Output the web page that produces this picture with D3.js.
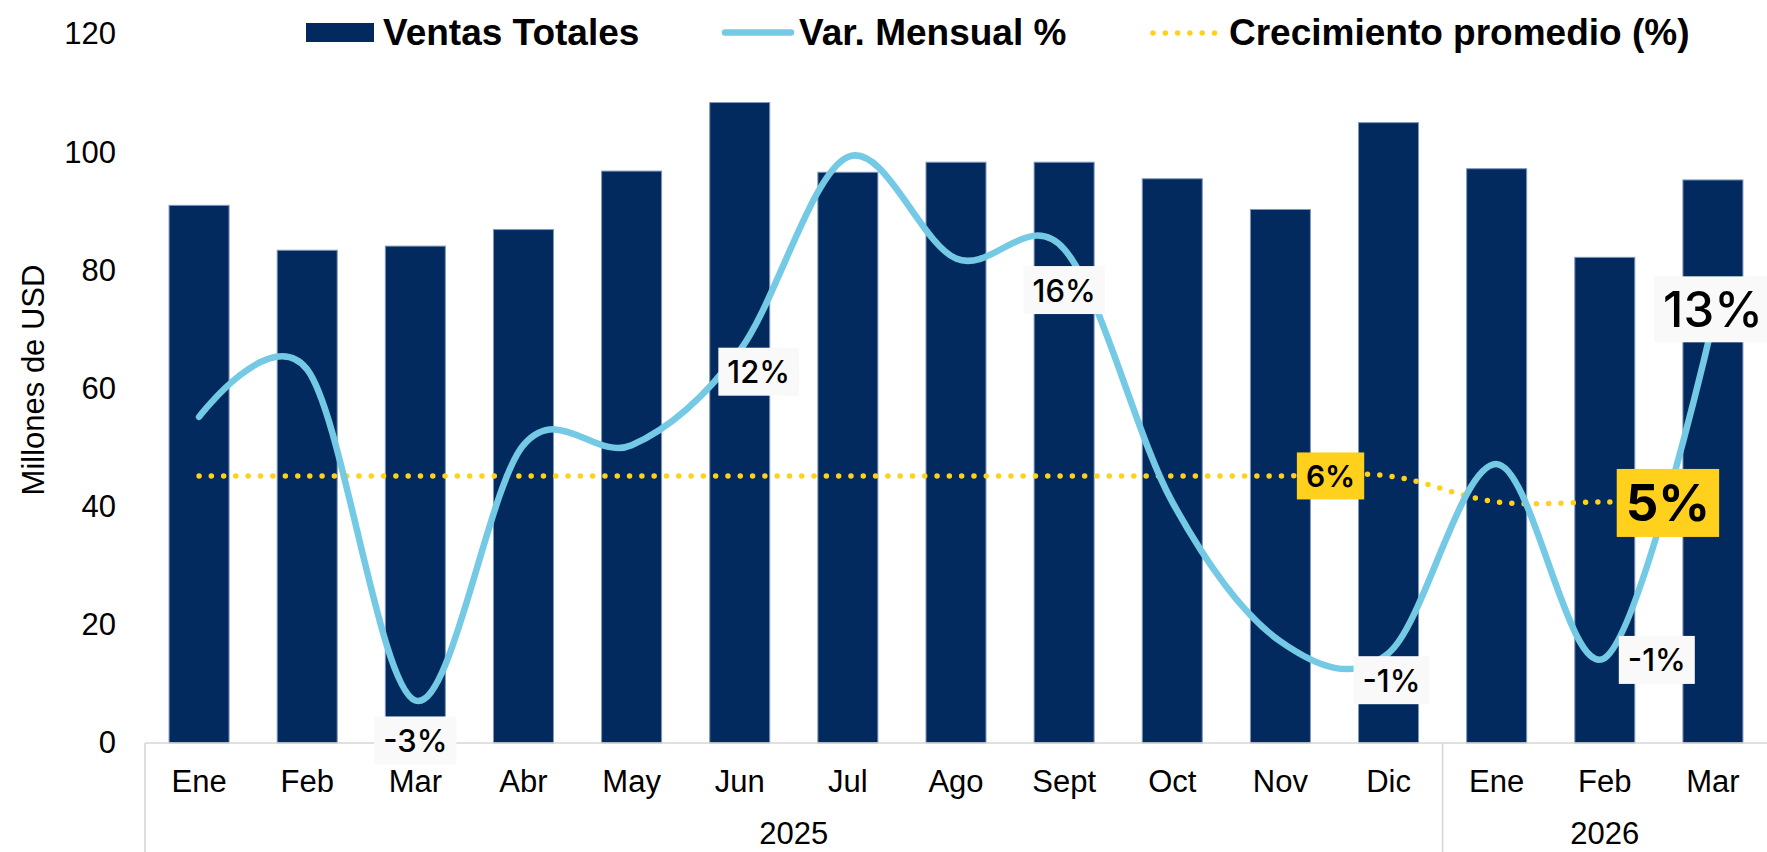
<!DOCTYPE html>
<html><head><meta charset="utf-8">
<script src="https://cdn.jsdelivr.net/npm/d3@7"></script>
<style>html,body{margin:0;padding:0;background:#fff;} svg{display:block;}</style>
</head><body><svg id="c" width="1767" height="852"></svg>
<script>
// ---------- DATA ----------
const months = ["Ene","Feb","Mar","Abr","May","Jun","Jul","Ago","Sept","Oct","Nov","Dic","Ene","Feb","Mar"];
const years = ["2025","2026"];
const yearSpan = [12,3];
const ventas = [91.0, 83.4, 84.1, 86.9, 96.8, 108.4, 96.6, 98.3, 98.3, 95.5, 90.3, 105.0, 97.2, 82.2, 95.3];
const varMensual = [8.8, 10.8, -3.2, 7.6, 7.6, 11.6, 19.8, 15.5, 15.9, 5.2, -0.7, -1.2, 6.8, -1.4, 12.8];
const crecimiento = [6.3, 6.3, 6.3, 6.3, 6.3, 6.3, 6.3, 6.3, 6.3, 6.3, 6.3, 6.3, 5.2, 5.2, 5.2];
const yTicks = [0, 20, 40, 60, 80, 100, 120];
const varLabelIdx = [2, 5, 8, 11, 13, 14];
const crecLabelIdx = [11, 14];
const legendNames = ["Ventas Totales", "Var. Mensual %", "Crecimiento promedio (%)"];

// ---------- LAYOUT ----------
const W = 1767, H = 852;
const plot = {left: 145, right: 1767, top: 34, bottom: 743};
const svg = d3.select("#c");
const sansFont = "'Liberation Sans', Arial, sans-serif";
const lblFont = "Inter, 'Noto Sans', sans-serif";
const C = {bar: "#022A5E", barEdge: "#7f97bb", line: "#74C9E5", dot: "#FFD11C", axis: "#d6d6d6"};

const x = d3.scaleBand().domain(d3.range(months.length)).range([plot.left, plot.right])
  .paddingInner(0.445).paddingOuter(0.2225);
const cx = i => x(i) + x.bandwidth() / 2;
const y = d3.scaleLinear().domain([0, 120]).range([plot.bottom, plot.top]);
const y2 = d3.scaleLinear().domain([-5, 25]).range([plot.bottom, plot.top]);

// Y axis (left)
const yAxis = svg.append("g").attr("transform", `translate(116,0)`)
  .call(d3.axisLeft(y).tickValues(yTicks).tickSize(0).tickPadding(0));
yAxis.select(".domain").remove();
yAxis.selectAll("text").attr("font-family", sansFont).attr("font-size", 31).attr("fill", "#000");

svg.append("text").attr("transform", `translate(44,380) rotate(-90)`)
  .attr("text-anchor", "middle").attr("font-family", sansFont).attr("font-size", 31).attr("fill", "#000")
  .text("Millones de USD");

// Bars
svg.append("g").selectAll("rect").data(ventas).join("rect")
  .attr("x", (d, i) => x(i)).attr("width", x.bandwidth())
  .attr("y", d => y(d)).attr("height", d => y(0) - y(d))
  .attr("fill", C.bar).attr("stroke", C.barEdge).attr("stroke-width", 1);

// Category axis
const xAxis = svg.append("g").attr("transform", `translate(0,${plot.bottom})`)
  .call(d3.axisBottom(x).tickFormat(i => months[i]).tickSize(0).tickPadding(0));
xAxis.select(".domain").remove();
xAxis.selectAll("text").attr("font-family", sansFont).attr("font-size", 31).attr("fill", "#000")
  .attr("dy", null).attr("y", 49);

svg.append("line").attr("x1", plot.left).attr("x2", plot.right).attr("y1", plot.bottom).attr("y2", plot.bottom)
  .attr("stroke", C.axis).attr("stroke-width", 1.6);
// group separators and year labels
let start = 0;
const sepXs = [plot.left];
years.forEach((yr, k) => {
  const end = start + yearSpan[k] - 1;
  const xm = (x(start) - x.step() * x.paddingInner() / 2 + x(end) + x.bandwidth() + x.step() * x.paddingInner() / 2) / 2;
  svg.append("text").attr("x", xm).attr("y", 844).attr("text-anchor", "middle")
    .attr("font-family", sansFont).attr("font-size", 31).attr("fill", "#000").text(yr);
  if (k > 0) sepXs.push(x(start) - x.step() * x.paddingInner() / 2);
  start = end + 1;
});
svg.append("g").selectAll("line").data(sepXs).join("line")
  .attr("x1", d => d).attr("x2", d => d).attr("y1", plot.bottom).attr("y2", H)
  .attr("stroke", C.axis).attr("stroke-width", 1.6);

// Lines
const lineGen = (arr) => d3.line().x((d, i) => cx(i)).y(d => y2(d)).curve(d3.curveCatmullRom.alpha(0))(arr);
svg.append("path").attr("d", lineGen(crecimiento)).attr("fill", "none").attr("stroke", C.dot)
  .attr("stroke-width", 5.5).attr("stroke-linecap", "round").attr("stroke-dasharray", "0 12.3");
svg.append("path").attr("d", lineGen(varMensual)).attr("fill", "none").attr("stroke", C.line)
  .attr("stroke-width", 6.5).attr("stroke-linecap", "round");

// Labels
const fmt = v => Math.round(v) + "%";
const varLabelPlace = {2: [0, 40, 31, 500], 5: [19, 21, 31, 500], 8: [0, 41, 31, 500], 11: [3, 27, 31, 500], 13: [52, 2, 31, 500], 14: [0, -13, 49, 500]};
const crecLabelPlace = {11: [-58, 0, 30, 600], 14: [-45, 1, 51, 700]};
function drawLabel(i, v, place, bg) {
  const [dx, dy, fs, fw] = place;
  const g = svg.append("g").attr("transform", `translate(${cx(i) + dx},${y2(v) + dy})`);
  const r = g.append("rect").attr("fill", bg);
  const t = g.append("text").attr("text-anchor", "middle").attr("dominant-baseline", "central")
    .attr("font-family", lblFont).attr("font-size", fs).attr("font-weight", fw).attr("fill", "#000").text(fmt(v));
  const w = t.node().getBBox().width + 18, h = fs + 17;
  r.attr("x", -w / 2).attr("y", -h / 2).attr("width", w).attr("height", h);
}
varLabelIdx.forEach(i => drawLabel(i, varMensual[i], varLabelPlace[i], "#f9f9f9"));
crecLabelIdx.forEach(i => drawLabel(i, crecimiento[i], crecLabelPlace[i], "#FFD11C"));

// Legend
const leg = svg.append("g");
const legX = [306, 722, 1153];
const legTextX = [383, 799, 1229];
leg.append("rect").attr("x", legX[0]).attr("y", 23).attr("width", 68).attr("height", 19).attr("fill", C.bar);
leg.append("line").attr("x1", legX[1] + 3).attr("x2", 794 - 3).attr("y1", 32.5).attr("y2", 32.5)
  .attr("stroke", C.line).attr("stroke-width", 6.5).attr("stroke-linecap", "round");
leg.append("line").attr("x1", legX[2]).attr("x2", 1216).attr("y1", 33).attr("y2", 33)
  .attr("stroke", C.dot).attr("stroke-width", 5.5).attr("stroke-linecap", "round").attr("stroke-dasharray", "0 12.3");
legendNames.forEach((n, k) => {
  leg.append("text").attr("x", legTextX[k]).attr("y", 45).attr("font-family", sansFont)
    .attr("font-weight", 700).attr("font-size", 37).attr("fill", "#000").text(n);
});
</script></body></html>
